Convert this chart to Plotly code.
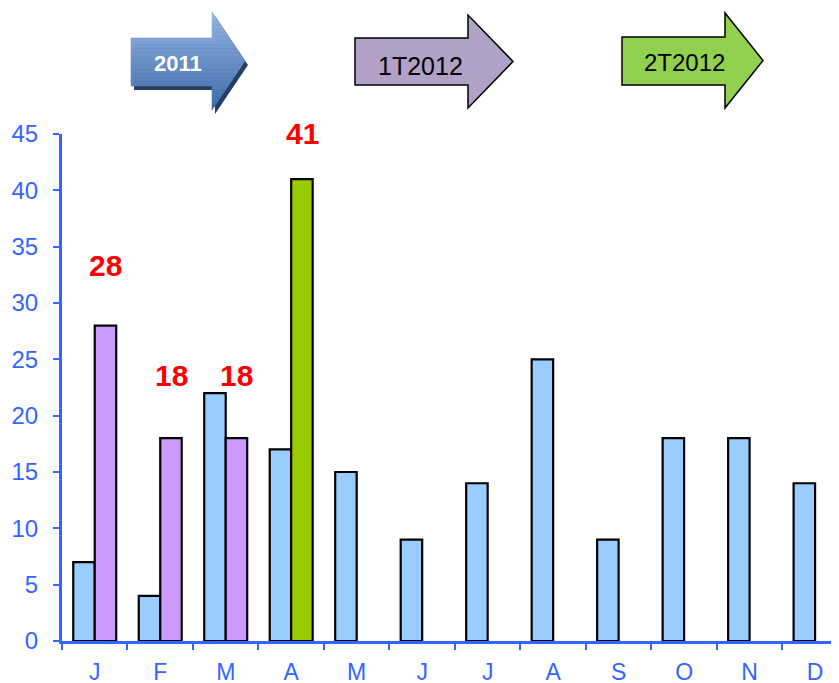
import plotly.graph_objects as go

# ---- data ----
months = ["Jan", "Feb", "Mar", "Apr", "May", "Jun", "Jul", "Aug", "Sep", "Oct", "Nov", "Dec"]
month_labels = ["J", "F", "M", "A", "M", "J", "J", "A", "S", "O", "N", "D"]
values_2011 = [7, 4, 22, 17, 15, 9, 14, 25, 9, 18, 18, 14]
values_2012 = [28, 18, 18, 41, None, None, None, None, None, None, None, None]
colors_2012 = ["#CC99FF", "#CC99FF", "#CC99FF", "#99CC00"]
arrow_texts = ["2011", "1T2012", "2T2012"]

# ---- layout constants (screen pixels; the page body adds an 8px offset) ----
OFF = 8
SW, SH = 839, 683
W, H = SW - OFF, SH - OFF
PL, PR, PT, PB = 62, 838, 134, 641          # plot area on screen
L, R, T, B = PL - OFF, SW - PR, PT - OFF, SH - PB
PW, PH = PR - PL, PB - PT
AXIS_BLUE = "#3366FF"
FONT = "Liberation Sans, Arial, sans-serif"
label_yshift = [60, 63, 63, 46]


def xp(px):
    return (px - PL) / PW


def yp(py):
    return (PB - py) / PH


def poly(pts, dx=0, dy=0):
    return "M " + " L ".join(f"{xp(a + dx):.5f},{yp(b + dy):.5f}" for a, b in pts) + " Z"


def arrow_pts(x0, x1, xt, ytop, ybot, htop, hbot):
    ymid = (htop + hbot) / 2
    return [(x0, ytop), (x1, ytop), (x1, htop), (xt, ymid), (x1, hbot), (x1, ybot), (x0, ybot)]


def lerp_color(c0, c1, t):
    a = [int(c0[i:i + 2], 16) for i in (1, 3, 5)]
    b = [int(c1[i:i + 2], 16) for i in (1, 3, 5)]
    return "#" + "".join(f"{round(a[k] + (b[k] - a[k]) * t):02X}" for k in range(3))


def gradient_arrow(x0, x1, xt, ytop, ybot, htop, hbot, ctop, cbot, n=24):
    ymid = (htop + hbot) / 2
    half = ymid - htop

    def right(y):
        return x1 + (xt - x1) * (1 - abs(y - ymid) / half)

    breaks = sorted(set([htop + (hbot - htop) * k / n for k in range(n + 1)] + [ytop, ybot, ymid]))
    out = []
    for ya, yb in zip(breaks[:-1], breaks[1:]):
        if yb - ya < 1e-6:
            continue
        yc = (ya + yb) / 2
        left = x0 if ytop <= yc <= ybot else x1
        pts = [(left, ya), (right(ya), ya)]
        if ya < ymid < yb:
            pts.append((xt, ymid))
        pts += [(right(yb), yb), (left, yb)]
        col = lerp_color(ctop, cbot, (yc - htop) / (hbot - htop))
        out.append(dict(type="path", xref="paper", yref="paper", path=poly(pts),
                        fillcolor=col, line=dict(color=col, width=0.6), layer="above"))
    return out


fig = go.Figure()
fig.add_trace(go.Bar(
    x=months, y=values_2011, marker=dict(color="#99CCFF", line=dict(color="black", width=2.2)),
    name="2011", showlegend=False))
fig.add_trace(go.Bar(
    x=months, y=values_2012,
    marker=dict(color=colors_2012 + ["#CC99FF"] * 8, line=dict(color="black", width=2.2)),
    name="2012", showlegend=False))

annotations = []
for i, v in enumerate(values_2012):
    if v is None:
        continue
    annotations.append(dict(
        x=months[i], y=v, xref="x", yref="y", text=f"<b>{v}</b>", showarrow=False,
        xshift=11, yshift=label_yshift[i], yanchor="middle",
        font=dict(family=FONT, size=30, color="#FF0000")))

shapes = []
# blue arrow: shadow + gradient body
shapes.append(dict(type="path", xref="paper", yref="paper",
                   path=poly(arrow_pts(131, 212, 245, 38, 86, 12, 110), dx=3, dy=4),
                   fillcolor="#243F60", line=dict(width=0), layer="above"))
shapes += gradient_arrow(131, 212, 245, 38, 86, 12, 110, "#95B6E2", "#3E6BAA")
shapes.append(dict(type="path", xref="paper", yref="paper",
                   path=poly(arrow_pts(355, 468, 513, 38, 85, 15, 108)),
                   fillcolor="#B2A1C7", line=dict(color="black", width=1.5), layer="above"))
shapes.append(dict(type="path", xref="paper", yref="paper",
                   path=poly(arrow_pts(622, 725, 763, 37, 85, 13, 108)),
                   fillcolor="#92D050", line=dict(color="black", width=1.5), layer="above"))

arrow_centers = [(178, 64), (420, 66), (684, 63)]
arrow_fonts = [dict(family=FONT, size=22, color="white"),
               dict(family=FONT, size=25, color="black"),
               dict(family=FONT, size=24, color="black")]
for txt, (cx, cy), f in zip(arrow_texts, arrow_centers, arrow_fonts):
    annotations.append(dict(x=xp(cx), y=yp(cy), xref="paper", yref="paper",
                            text=f"<b>{txt}</b>" if txt == "2011" else txt,
                            showarrow=False, font=f, xanchor="center", yanchor="middle"))

fig.update_layout(
    width=W, height=H, margin=dict(l=L, r=R, t=T, b=B, autoexpand=False),
    paper_bgcolor="white", plot_bgcolor="white",
    barmode="group", bargap=0.344, bargroupgap=0,
    shapes=shapes, annotations=annotations,
    xaxis=dict(
        type="category", categoryorder="array", categoryarray=months,
        tickmode="array", tickvals=months, ticktext=month_labels,
        range=[-0.5, 11.35], tickson="boundaries", ticks="outside", ticklen=6, tickwidth=2,
        tickcolor=AXIS_BLUE, showline=True, linecolor=AXIS_BLUE, linewidth=3,
        showgrid=False, zeroline=False, ticklabelstandoff=8,
        tickfont=dict(family=FONT, size=23, color=AXIS_BLUE)),
    yaxis=dict(
        range=[0, 45], tickmode="linear", tick0=0, dtick=5, ticks="outside", ticklen=6,
        tickwidth=2, tickcolor=AXIS_BLUE, showline=True, linecolor=AXIS_BLUE, linewidth=3,
        showgrid=False, zeroline=False, ticklabelstandoff=10,
        tickfont=dict(family=FONT, size=24, color=AXIS_BLUE)),
)

fig.write_html("out.html")
